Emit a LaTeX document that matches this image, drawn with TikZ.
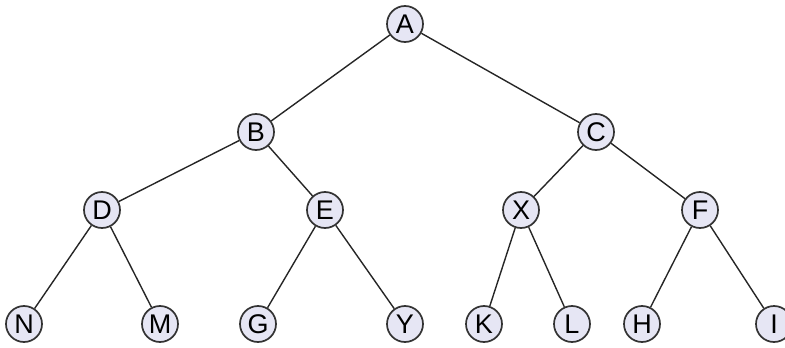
\documentclass[tikz,border=0pt]{standalone}
\usepackage{fontspec}
\setmainfont{Liberation Sans}
\definecolor{nodefill}{HTML}{E6E6F4}
\definecolor{ringcol}{HTML}{333333}
\begin{document}
\begin{tikzpicture}[x=1pt,y=-1pt,
  treenode/.style={circle, draw=ringcol, line width=1.7pt, fill=nodefill,
    minimum size=36pt, inner sep=0pt, font=\fontsize{27}{27}\selectfont},
  edge/.style={draw=black!85, line width=1.4pt}]
\useasboundingbox (0,0) rectangle (785,348);
% level 0
\node[treenode] (A) at (405,24) {A};
% level 1
\node[treenode] (B) at (256,132) {B};
\node[treenode] (C) at (596,132) {C};
% level 2
\node[treenode] (D) at (102,210) {D};
\node[treenode] (E) at (325,210) {E};
\node[treenode] (X) at (521,210) {X};
\node[treenode] (F) at (700,210) {F};
% level 3
\node[treenode] (N) at (24,324) {N};
\node[treenode] (M) at (160,324) {M};
\node[treenode] (G) at (258,324) {G};
\node[treenode] (Y) at (405,324) {Y};
\node[treenode] (K) at (484,324) {K};
\node[treenode] (L) at (572,324) {L};
\node[treenode] (H) at (642,324) {H};
\node[treenode] (I) at (774,324) {I};
% edges between parent and child
\foreach \p/\c in {A/B,A/C,B/D,B/E,C/X,C/F,D/N,D/M,E/G,E/Y,X/K,X/L,F/H,F/I}
  \path[edge] (\p) -- (\c);
\end{tikzpicture}
\end{document}
